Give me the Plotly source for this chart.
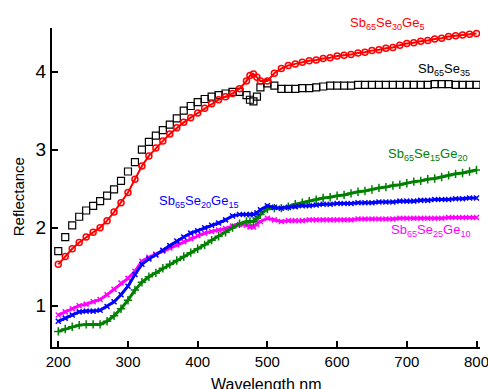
import plotly.graph_objects as go

wavelength = list(range(200, 471, 10)) + [475, 480, 485] + list(range(490, 801, 10))

r_se35 = [1.70, 1.88, 2.03, 2.14, 2.22, 2.28, 2.34, 2.41, 2.49, 2.60,
          2.72, 2.84, 3.00, 3.10, 3.18, 3.25, 3.32, 3.40, 3.50, 3.56,
          3.61, 3.65, 3.68, 3.70, 3.72, 3.74, 3.74, 3.70,
          3.64, 3.62, 3.68,
          3.80, 3.85, 3.82, 3.78, 3.78, 3.78, 3.79, 3.79, 3.80, 3.81, 3.82, 3.82,
          3.82, 3.82, 3.83, 3.83, 3.83, 3.83, 3.83, 3.83, 3.83, 3.83,
          3.83, 3.83, 3.83, 3.84, 3.84, 3.84, 3.83, 3.83, 3.83, 3.83]

r_ge5 = [1.53, 1.63, 1.73, 1.81, 1.88, 1.94, 2.00, 2.09, 2.20, 2.32,
         2.45, 2.62, 2.79, 2.92, 3.02, 3.11, 3.20, 3.28, 3.35, 3.41,
         3.47, 3.53, 3.59, 3.64, 3.68, 3.72, 3.78, 3.88,
         3.95, 3.97, 3.93,
         3.88, 3.88, 3.98, 4.04, 4.08, 4.10, 4.12, 4.14, 4.15, 4.17, 4.18, 4.20,
         4.21, 4.22, 4.24, 4.25, 4.27, 4.28, 4.30, 4.31, 4.34, 4.36,
         4.37, 4.39, 4.40, 4.42, 4.43, 4.45, 4.46, 4.47, 4.48, 4.49]

r_ge10 = [0.88, 0.92, 0.96, 1.00, 1.02, 1.05, 1.08, 1.14, 1.21, 1.29,
          1.35, 1.44, 1.57, 1.62, 1.66, 1.70, 1.74, 1.78, 1.82, 1.86,
          1.90, 1.93, 1.95, 1.97, 1.99, 2.02, 2.04, 2.03,
          2.01, 2.01, 2.04,
          2.08, 2.12, 2.10, 2.08, 2.09, 2.09, 2.09, 2.10, 2.10, 2.10, 2.10, 2.10,
          2.10, 2.10, 2.11, 2.11, 2.11, 2.11, 2.11, 2.11, 2.12, 2.12,
          2.12, 2.12, 2.12, 2.12, 2.12, 2.13, 2.13, 2.13, 2.13, 2.13]

r_ge15 = [0.80, 0.84, 0.88, 0.92, 0.93, 0.93, 0.94, 0.99, 1.05, 1.14,
          1.25, 1.40, 1.53, 1.60, 1.65, 1.71, 1.77, 1.83, 1.88, 1.93,
          1.96, 2.00, 2.03, 2.06, 2.10, 2.15, 2.17, 2.17,
          2.17, 2.17, 2.19,
          2.23, 2.28, 2.26, 2.25, 2.26, 2.27, 2.28, 2.28, 2.29, 2.30, 2.30, 2.31,
          2.31, 2.31, 2.32, 2.32, 2.32, 2.33, 2.33, 2.33, 2.34, 2.34,
          2.34, 2.35, 2.35, 2.36, 2.36, 2.36, 2.37, 2.37, 2.38, 2.38]

r_ge20 = [0.67, 0.70, 0.73, 0.75, 0.76, 0.76, 0.76, 0.80, 0.87, 0.96,
          1.07, 1.20, 1.30, 1.37, 1.42, 1.48, 1.53, 1.58, 1.63, 1.68,
          1.73, 1.78, 1.84, 1.89, 1.94, 2.00, 2.05, 2.08,
          2.08, 2.08, 2.12,
          2.17, 2.24, 2.25, 2.25, 2.27, 2.30, 2.32, 2.34, 2.36, 2.38, 2.39, 2.41,
          2.42, 2.44, 2.46, 2.47, 2.49, 2.51, 2.52, 2.54, 2.55, 2.57,
          2.59, 2.60, 2.62, 2.63, 2.65, 2.67, 2.69, 2.70, 2.72, 2.74]

y_ticks = [1, 2, 3, 4]
x_ticks = [200, 300, 400, 500, 600, 700, 800]

fig = go.Figure()

fig.add_trace(go.Scatter(x=wavelength, y=r_se35, mode="markers",
                         marker=dict(symbol="square-open", size=7, color="black",
                                     line=dict(width=1.2, color="black"))))
fig.add_trace(go.Scatter(x=wavelength, y=r_ge5, mode="lines+markers",
                         line=dict(color="red", width=2),
                         marker=dict(symbol="circle-open", size=6, color="red",
                                     line=dict(width=1.5, color="red"))))
fig.add_trace(go.Scatter(x=wavelength, y=r_ge10, mode="lines+markers",
                         line=dict(color="#ff00ff", width=3),
                         marker=dict(symbol="x-thin", size=5,
                                     line=dict(width=1.5, color="#ff00ff"))))
fig.add_trace(go.Scatter(x=wavelength, y=r_ge20, mode="lines+markers",
                         line=dict(color="#008000", width=3),
                         marker=dict(symbol="cross-thin", size=6,
                                     line=dict(width=1.5, color="#008000"))))
fig.add_trace(go.Scatter(x=wavelength, y=r_ge15, mode="lines+markers",
                         line=dict(color="#0000ff", width=3),
                         marker=dict(symbol="x-thin", size=5,
                                     line=dict(width=1.5, color="#0000ff"))))

lab_font = "Liberation Sans, Arial, sans-serif"
# (text, x in data units, y, y reference, colour)
labels = [
    ("Sb<sub>65</sub>Se<sub>30</sub>Ge<sub>5</sub>", 616, 1.015, "paper", "red"),
    ("Sb<sub>65</sub>Se<sub>35</sub>", 713, 4.03, "y", "black"),
    ("Sb<sub>65</sub>Se<sub>15</sub>Ge<sub>20</sub>", 670, 2.94, "y", "#008000"),
    ("Sb<sub>65</sub>Se<sub>20</sub>Ge<sub>15</sub>", 342, 2.33, "y", "#0000ff"),
    ("Sb<sub>65</sub>Se<sub>25</sub>Ge<sub>10</sub>", 675, 1.96, "y", "#ff00ff"),
]
for txt, lx, ly, yr, col in labels:
    fig.add_annotation(x=lx, y=ly, xref="x", yref=yr, text=txt, showarrow=False,
                       xanchor="left", yanchor="middle",
                       font=dict(family=lab_font, size=13, color=col))

# axis titles
fig.add_annotation(x=-0.079, y=0.47, xref="paper", yref="paper", text="Reflectance",
                   textangle=-90, showarrow=False, xanchor="center", yanchor="middle",
                   font=dict(family=lab_font, size=15, color="black"))
fig.add_annotation(x=0.5, y=-0.118, xref="paper", yref="paper", text="Wavelength nm",
                   showarrow=False, xanchor="center", yanchor="middle",
                   font=dict(family=lab_font, size=16, color="black"))

fig.update_layout(
    width=488, height=389,
    margin=dict(l=52, r=8, t=28, b=42),
    paper_bgcolor="white", plot_bgcolor="white",
    showlegend=False,
    font=dict(family=lab_font, color="black"),
)
fig.update_xaxes(range=[191, 805], tickvals=x_ticks, ticks="inside", ticklen=6,
                 tickwidth=2, tickcolor="black", showline=True, linecolor="black",
                 linewidth=2, showgrid=False, zeroline=False, automargin=False,
                 ticklabeloverflow="allow",
                 tickfont=dict(size=15, family=lab_font))
fig.update_yaxes(range=[0.47, 4.56], tickvals=y_ticks, ticks="inside", ticklen=6,
                 tickwidth=2, tickcolor="black", showline=True, linecolor="black",
                 linewidth=2, showgrid=False, zeroline=False, automargin=False,
                 tickfont=dict(size=19, family=lab_font))

fig.write_html("out.html", config={"displayModeBar": False},
               post_script="document.body.style.margin='0px';document.body.style.overflow='hidden';")
